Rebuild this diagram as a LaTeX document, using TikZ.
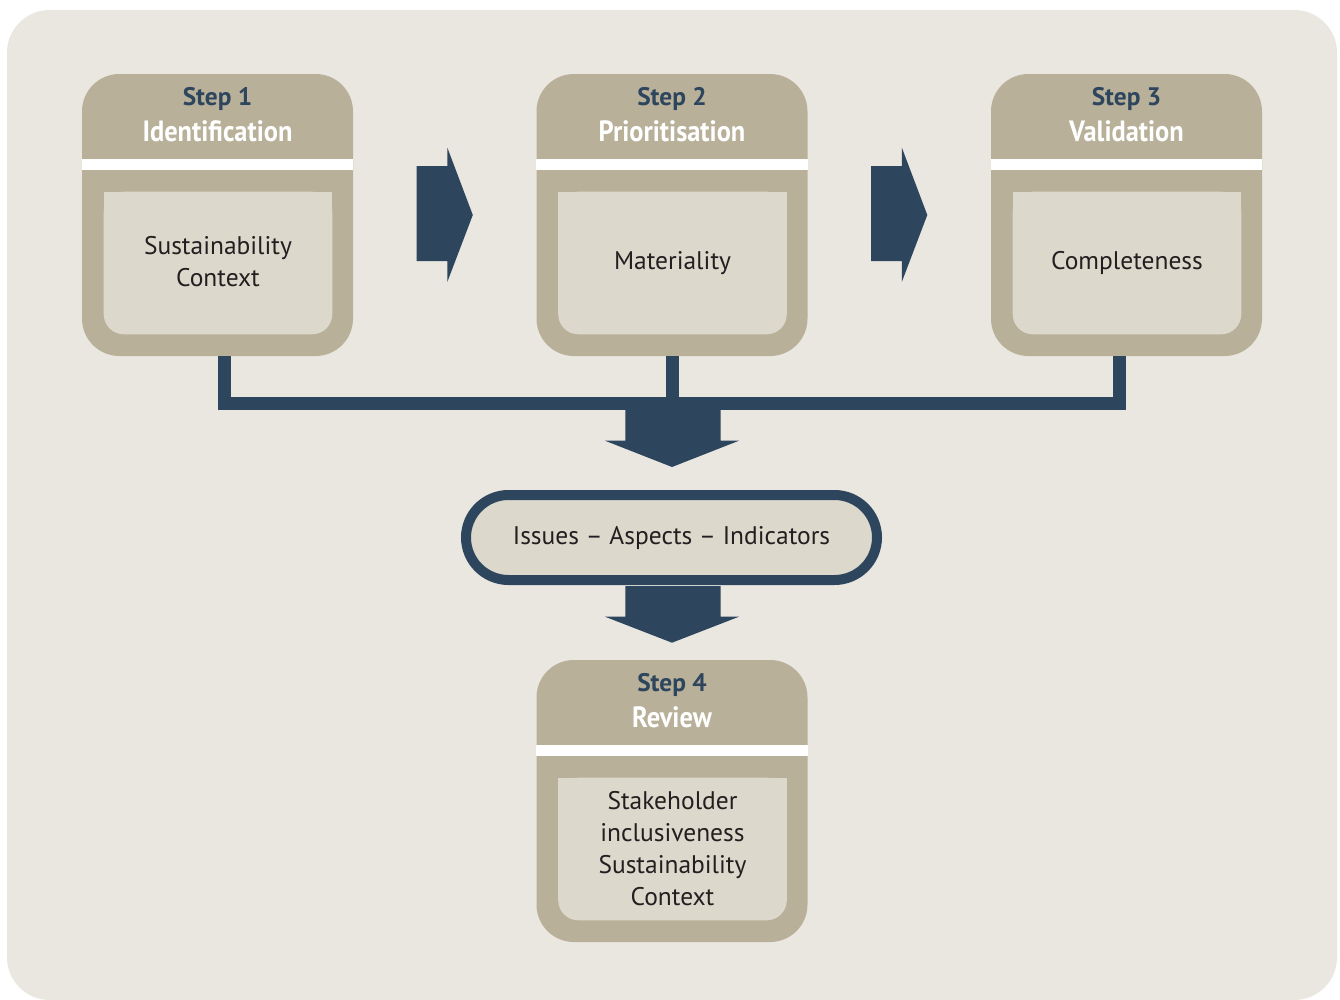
\documentclass[tikz,border=0pt]{standalone}
\usepackage{fontspec}
\setmainfont{PT Sans}
\newfontfamily\condfont[FakeStretch=0.9]{PT Sans}
\usetikzlibrary{shapes.misc,calc}
\definecolor{bgc}{RGB}{234,231,224}
\definecolor{tanc}{RGB}{184,176,153}
\definecolor{innerc}{RGB}{220,216,204}
\definecolor{navyc}{RGB}{46,69,94}
\definecolor{textc}{RGB}{35,31,32}
\begin{document}
\begin{tikzpicture}[x=0.75pt,y=-0.75pt,
  outerbox/.style={fill=tanc, rounded corners=28pt, minimum width=203.25pt, minimum height=211.5pt, inner sep=0pt},
  innertext/.style={inner sep=0pt, align=center, font=\fontsize{19.1}{24}\selectfont, text=textc},
  steplabel/.style={font=\bfseries\fontsize{19}{22}\selectfont, text=navyc, anchor=base, inner sep=0pt},
  steptitle/.style={font=\condfont\bfseries\fontsize{22}{26}\selectfont, text=white, anchor=base, inner sep=0pt},
  band/.style={fill=white},
  flow/.style={fill=navyc},
  bracket/.style={draw=navyc, line width=9.75pt, line join=miter},
  pill/.style={rounded rectangle, draw=navyc, line width=7.5pt, fill=innerc, minimum width=308.25pt, minimum height=63.75pt, inner sep=0pt, font=\fontsize{19.1}{24}\selectfont, text=textc}
]
\useasboundingbox (0,0) rectangle (1340,1000);
\fill[white] (0,0) rectangle (1340,1000);
\fill[bgc, rounded corners=32pt] (7,10) rectangle (1337,1000);

% junction points of the bracket
\coordinate (j1) at (224.5,403.8);
\coordinate (j2) at (672,403.8);
\coordinate (j3) at (1119.5,403.8);

% step boxes
\foreach \n/\cx/\cy/\dy/\txt in {1/217.5/215/47/{Sustainability\\Context}, 2/672/215/48/{Materiality}, 3/1126.5/215/48/{Completeness}, 4/672/801/47.5/{Stakeholder\\inclusiveness\\Sustainability\\Context}} {
  \node[outerbox] (s\n) at (\cx,\cy) {};
  \fill[band] ($(s\n.north west)+(0,85.5)$) rectangle ($(s\n.north east)+(0,96.5)$);
  \fill[innerc, rounded corners=15pt] ($(s\n.north west)+(22,118)$) rectangle ($(s\n.south east)+(-21,-22)$);
  \fill[innerc] ($(s\n.north west)+(22,118)$) rectangle ($(s\n.east)+(-21,40)$);
  \node[innertext] (c\n) at ($(s\n.center)+(0.5,\dy)$) {\txt};
}

\node[steplabel] (l1) at (217.5,105) {Step 1};
\node[steptitle] (t1) at (217.5,141.7) {Identification};
\node[steplabel] (l2) at (672,105) {Step 2};
\node[steptitle] (t2) at (672,141.7) {Prioritisation};
\node[steplabel] (l3) at (1126.5,105) {Step 3};
\node[steptitle] (t3) at (1126.5,141.7) {Validation};
\node[steplabel] (l4) at (672,691.7) {Step 4};
\node[steptitle] (t4) at (672,727.3) {Review};

% bracket
\draw[bracket] (s1.south -| j1) -- (j1) -- (j3) -- (s3.south -| j3);
\draw[bracket] (s2.south -| j2) -- (j2);

% right arrows
\fill[flow] (416.5,166) -- (447.3,166) -- (447.3,147.5) -- (472.8,215) -- (447.3,282) -- (447.3,261) -- (416.5,261) -- cycle;
\fill[flow] (871,166) -- (901.8,166) -- (901.8,147.5) -- (927.3,215) -- (901.8,282) -- (901.8,261) -- (871,261) -- cycle;

% pill
\node[pill] (iai) at (671.5,537.5) {Issues – Aspects – Indicators};

% down arrows
\fill[flow] (625.3,410) -- (720.7,410) -- (720.7,440.7) -- (739,440.7) -- (672,467) -- (605,440.7) -- (625.3,440.7) -- cycle;
\fill[flow] (625.3,586) -- (720.7,586) -- (720.7,616.7) -- (739,616.7) -- (672,642.7) -- (605,616.7) -- (625.3,616.7) -- cycle;
\end{tikzpicture}
\end{document}
